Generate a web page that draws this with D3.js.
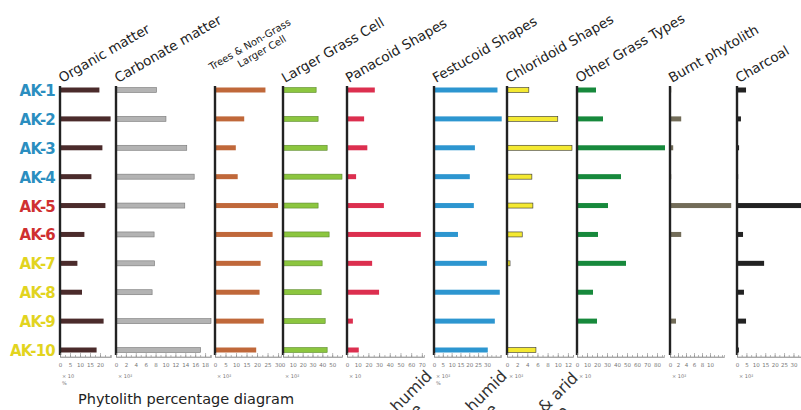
<!DOCTYPE html>
<html>
<head>
<meta charset="utf-8">
<script src="https://cdn.jsdelivr.net/npm/d3@7"></script>
<style>
  body { margin: 0; background: #fff; }
  svg { display: block; }
  .axis path, .axis line { stroke: #888; stroke-width: 0.6; }
  .axis text { fill: #777; font-size: 5.5px; font-family: "DejaVu Sans", sans-serif; }
</style>
</head>
<body>
<div id="chart"></div>
<script>
// samples, top to bottom
const samples = ["AK-1", "AK-2", "AK-3", "AK-4", "AK-5", "AK-6", "AK-7", "AK-8", "AK-9", "AK-10"]

// values, one array per column
const organicMatter   = [19.7, 25.3, 21.2, 15.7, 22.7, 12.2, 8.7, 11, 21.8, 18.3]
const carbonateMatter = [8.2, 10.1, 14.3, 15.8, 13.9, 7.7, 7.8, 7.3, 19.2, 17.1]
const treesNonGrass   = [24, 13.9, 9.9, 10.8, 30, 27.4, 21.7, 21.2, 23.2, 19.6]
const largerGrass     = [33.7, 35.7, 44.9, 60, 35.7, 46.9, 39.8, 38.8, 42.9, 44.9]
const panacoid        = [26, 16, 19, 8.5, 34.5, 69, 23.5, 30, 5.5, 11]
const festucoid       = [36, 38.4, 23.2, 20.3, 22.6, 13.6, 30, 37.3, 34.5, 30.5]
const chloridoid      = [4.3, 10, 12.8, 4.9, 5.1, 3, 0.6, 0, 0, 5.7]
const otherGrass      = [19, 26, 88, 44, 31, 21, 49, 16, 20, 0]
const burntPhytolith  = [0.3, 2.8, 0.8, 0.3, 15.3, 2.8, 0, 0, 1.5, 0]
const charcoal        = [4.8, 2.1, 1.1, 0.6, 34.5, 3.2, 14.4, 3.7, 4.8, 1]

// tick labels per column
const organicTicks    = [0, 5, 10, 15, 20]
const carbonateTicks  = [0, 2, 4, 6, 8, 10, 12, 14, 16, 18]
const treesTicks      = [0, 5, 10, 15, 20, 25, 30]
const largerTicks     = [0, 10, 20, 30, 40, 50]
const panacoidTicks   = [0, 10, 20, 30, 40, 50, 60, 70]
const festucoidTicks  = [0, 5, 10, 15, 20, 25, 30]
const chloridoidTicks = [0, 2, 4, 6, 8, 10, 12]
const otherTicks      = [0, 10, 20, 30, 40, 50, 60, 70, 80]
const burntTicks      = [0, 2, 4, 6, 8, 10]
const charcoalTicks   = [0, 5, 10, 15, 20, 25, 30]

const width = 801, height = 410

// layout + style for each column (x range is pixels, max is axis end value)
const panels = [
  { title: ["Organic matter"], values: organicMatter, ticks: organicTicks, minor: 2.5, max: 25.5, x: [60, 111], fill: "#4b2b2b", stroke: "none", unit: "× 10", pct: true },
  { title: ["Carbonate matter"], values: carbonateMatter, ticks: carbonateTicks, minor: 1, max: 19.2, x: [116, 211], fill: "#b3b3b3", stroke: "#777", unit: "× 10²" },
  { title: ["Trees & Non-Grass", "Larger Cell"], values: treesNonGrass, ticks: treesTicks, minor: 2.5, max: 31.4, x: [215, 281], fill: "#c0683a", stroke: "none", unit: "× 10²", small: true },
  { title: ["Larger Grass Cell"], values: largerGrass, ticks: largerTicks, minor: 5, max: 60, x: [283, 342], fill: "#8cc63f", stroke: "#5a8a2a", unit: "× 10²" },
  { title: ["Panacoid Shapes"], values: panacoid, ticks: panacoidTicks, minor: 5, max: 72, x: [347, 424], fill: "#dc2f4f", stroke: "none", unit: "× 10" },
  { title: ["Festucoid Shapes"], values: festucoid, ticks: festucoidTicks, minor: 2.5, max: 38, x: [434, 501], fill: "#2d96d0", stroke: "none", unit: "× 10²", pct: true },
  { title: ["Chloridoid Shapes"], values: chloridoid, ticks: chloridoidTicks, minor: 1, max: 13, x: [507, 573], fill: "#f4e932", stroke: "#333", unit: "× 10²" },
  { title: ["Other Grass Types"], values: otherGrass, ticks: otherTicks, minor: 5, max: 87, x: [577, 664], fill: "#17893c", stroke: "none", unit: "× 10" },
  { title: ["Burnt phytolith"], values: burntPhytolith, ticks: burntTicks, minor: 1, max: 13.5, x: [670, 724], fill: "#726c58", stroke: "none", unit: "× 10²" },
  { title: ["Charcoal"], values: charcoal, ticks: charcoalTicks, minor: 2.5, max: 34, x: [737, 801], fill: "#222", stroke: "none", unit: "× 10²" }
]

const labelColors = ["#2b8ec0", "#2b8ec0", "#2b8ec0", "#2b8ec0", "#cf3030", "#cf3030", "#e2d41f", "#e2d41f", "#e2d41f", "#e2d41f"]

const svg = d3.select("#chart").append("svg")
  .attr("width", width)
  .attr("height", height)

const y = d3.scalePoint()
  .domain(samples)
  .range([90, 350])

const axisY = 357
const barH = 5

// row labels
svg.selectAll(".row-label")
  .data(samples)
  .enter()
  .append("text")
  .attr("class", "row-label")
  .attr("x", 55)
  .attr("y", d => y(d) + 6)
  .attr("text-anchor", "end")
  .attr("font-family", "DejaVu Sans, sans-serif")
  .attr("font-weight", "bold")
  .attr("font-size", 15)
  .attr("letter-spacing", -0.8)
  .attr("fill", (d, i) => labelColors[i])
  .text(d => d)

panels.forEach(p => {
  const x = d3.scaleLinear().domain([0, p.max]).range(p.x)
  const g = svg.append("g")

  // bars
  g.selectAll(".bar")
    .data(samples.map((s, i) => ({ s, v: p.values[i] })).filter(d => d.v > 0))
    .enter()
    .append("rect")
    .attr("class", "bar")
    .attr("x", x(0))
    .attr("y", d => y(d.s) - barH / 2)
    .attr("width", d => x(d.v) - x(0))
    .attr("height", barH)
    .attr("fill", p.fill)
    .attr("stroke", p.stroke)
    .attr("stroke-width", 0.6)

  // the dark vertical baseline
  g.append("line")
    .attr("x1", x(0)).attr("x2", x(0))
    .attr("y1", y(samples[0]) - 4)
    .attr("y2", axisY - 2)
    .attr("stroke", "#222")
    .attr("stroke-width", 2.4)

  // minor ticks
  const minorVals = d3.range(0, p.max + 0.001, p.minor)
  g.append("g")
    .attr("class", "axis")
    .attr("transform", `translate(0,${axisY})`)
    .call(d3.axisBottom(x).tickValues(minorVals).tickSize(-2).tickFormat(""))

  // major ticks with labels
  g.append("g")
    .attr("class", "axis")
    .attr("transform", `translate(0,${axisY})`)
    .call(d3.axisBottom(x).tickValues(p.ticks).tickSize(-4).tickPadding(6).tickFormat(d3.format("d")))
    .call(a => a.select(".domain").attr("d", `M${p.x[0]},0H${p.x[1]}`))

  // unit text under axis
  g.append("text")
    .attr("x", x(0) + 2)
    .attr("y", axisY + 21)
    .attr("font-family", "DejaVu Sans, sans-serif")
    .attr("font-size", 5)
    .attr("fill", "#777")
    .text(p.unit)
  if (p.pct) {
    g.append("text")
      .attr("x", x(0) + 2)
      .attr("y", axisY + 28)
      .attr("font-family", "DejaVu Sans, sans-serif")
      .attr("font-size", 5)
      .attr("fill", "#777")
      .text("%")
  }

  // rotated column title
  const t = g.append("text")
    .attr("transform", `translate(${x(0) + 2},${p.small ? 80 : 83}) rotate(-30)`)
    .attr("font-family", "DejaVu Sans, sans-serif")
    .attr("font-size", p.small ? 10 : 13.5)
    .attr("fill", "#222")
  p.title.forEach((line, i) => {
    t.append("tspan")
      .attr("x", i === 0 ? 0 : 26)
      .attr("dy", i === 0 ? (p.title.length > 1 ? -11 : 0) : 12)
      .text(line)
  })
})

// footer
svg.append("text")
  .attr("x", 78)
  .attr("y", 404)
  .attr("font-family", "DejaVu Sans, sans-serif")
  .attr("font-size", 14.5)
  .attr("fill", "#222")
  .text("Phytolith percentage diagram")

// rotated notes running off the bottom edge (cut off, as in the source)
const notes = [
  { lines: ["Warm & humid", "climate"], x: 433, y: 377 },
  { lines: ["Cool & humid", "climate"], x: 508, y: 377 },
  { lines: ["Hot & arid", "climate"], x: 579, y: 379 }
]
notes.forEach(n => {
  const t = svg.append("text")
    .attr("transform", `translate(${n.x},${n.y}) rotate(-45)`)
    .attr("font-family", "DejaVu Sans, sans-serif")
    .attr("font-size", 16)
    .attr("fill", "#333")
    .attr("text-anchor", "end")
  n.lines.forEach((line, i) => {
    t.append("tspan").attr("x", i ? -30 : 0).attr("dy", i ? 17 : 0).text(line)
  })
})
</script>
</body>
</html>
